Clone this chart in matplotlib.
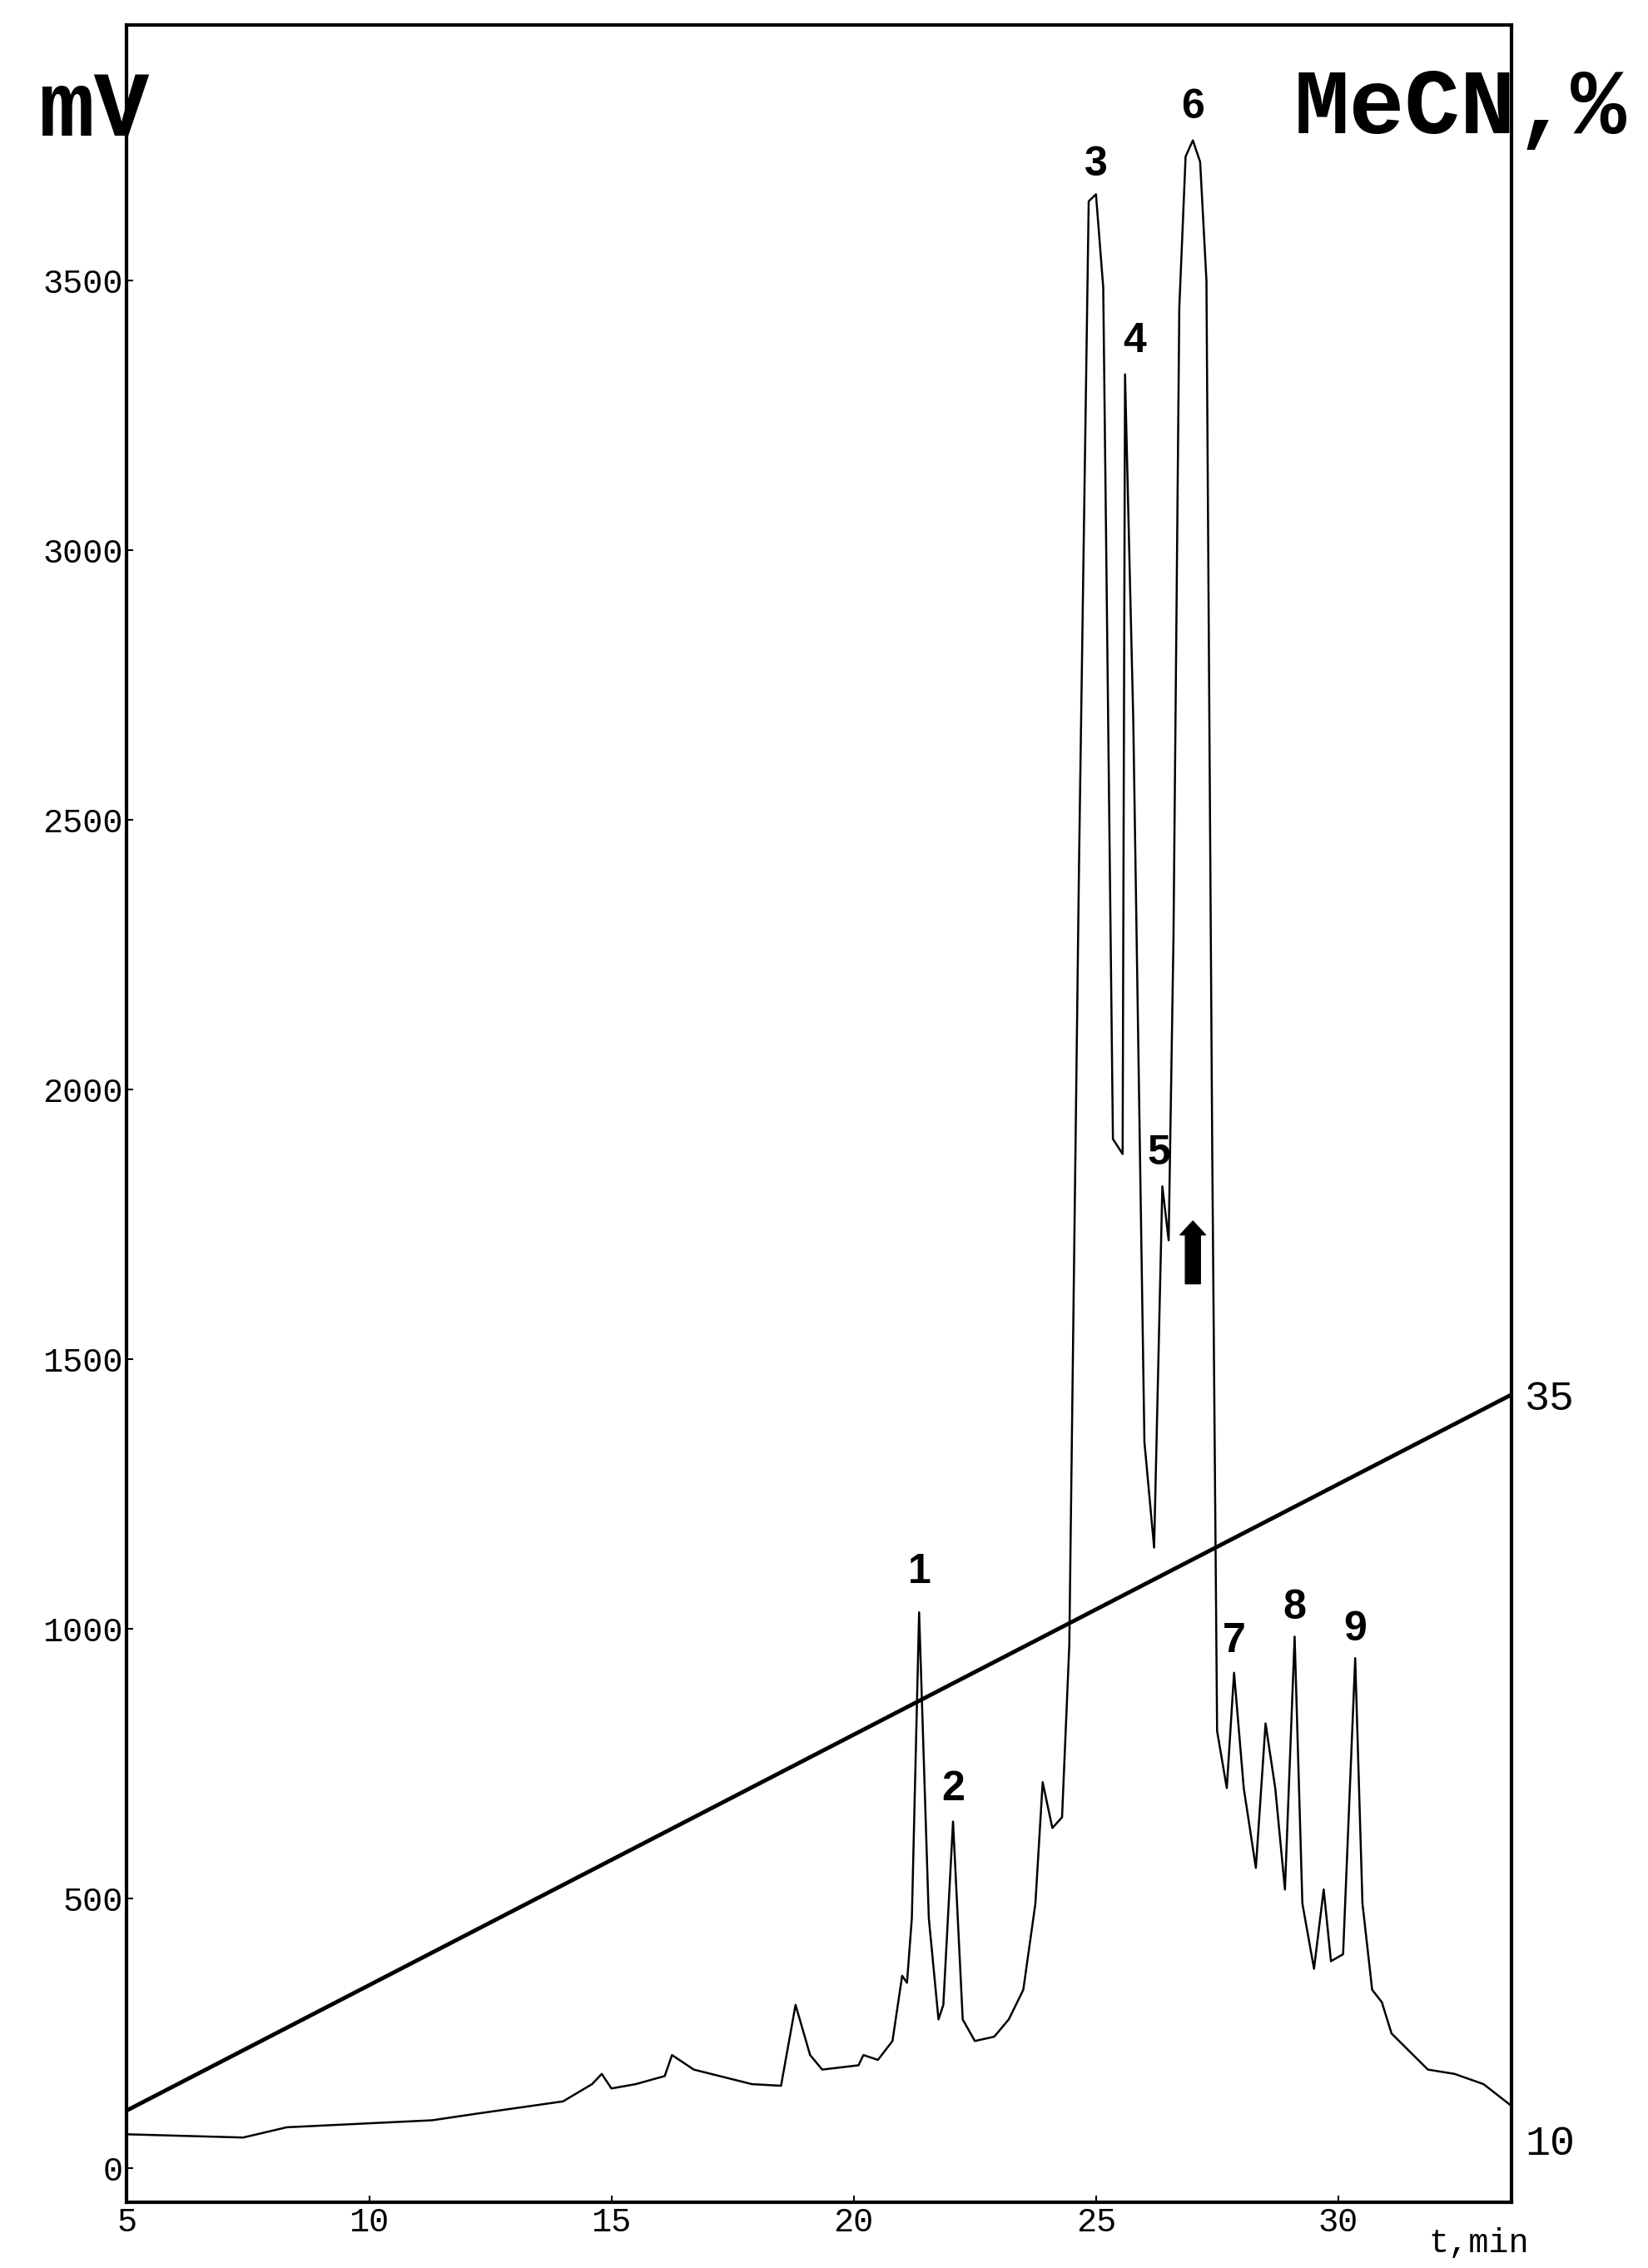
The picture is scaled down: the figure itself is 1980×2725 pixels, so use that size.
import matplotlib
matplotlib.use("Agg")
import matplotlib.pyplot as plt

t = [5, 7.4, 8.3, 11.3, 12.2, 14, 14.6, 14.8, 15.0, 15.5, 16.1, 16.25, 16.7, 17.9, 18.5, 18.8, 19.1, 19.35,
     20.1, 20.2, 20.5, 20.8, 21.0, 21.1, 21.2, 21.35, 21.55, 21.75, 21.85, 22.05, 22.25, 22.5, 22.9, 23.2,
     23.5, 23.75, 23.9, 24.1, 24.3, 24.45, 24.65, 24.85, 25.0, 25.15, 25.35, 25.55, 25.6, 25.77, 26.0, 26.2,
     26.37, 26.5, 26.6, 26.72, 26.85, 27.0, 27.15, 27.28, 27.4, 27.5, 27.7, 27.85, 28.05, 28.3, 28.5, 28.7, 28.9, 29.1,
     29.26, 29.5, 29.7, 29.85, 30.1, 30.35, 30.5, 30.7, 30.9, 31.1, 31.85, 32.4, 33.0, 33.57]
mv = [62, 56, 75, 88, 100, 123, 155, 174, 147, 155, 170, 209, 182, 155, 152, 302, 209, 182,
      190, 209, 200, 235, 356, 343, 463, 1030, 463, 275, 302, 642, 275, 235, 243, 275,
      330, 490, 715, 630, 650, 970, 2416, 3647, 3660, 3487, 1908, 1880, 3326, 2684, 1346, 1150,
      1820, 1720, 2283, 3450, 3730, 3760, 3720, 3500, 1880, 810, 704, 918, 704, 556, 824, 704, 516, 985,
      490, 369, 516, 383, 396, 945, 490, 330, 307, 249, 182, 174, 155, 115]

grad_t = [5, 33.57]
grad_mecn = [11.0, 35.0]

peak_labels = ["1", "2", "3", "4", "5", "6", "7", "8", "9"]
peak_t = [21.35, 22.05, 25.0, 25.8, 26.3, 27.0, 27.85, 29.1, 30.35]
peak_mv = [1105, 701, 3714, 3388, 1881, 3821, 977, 1038, 998]

xticks = [5, 10, 15, 20, 25, 30]
yticks = [0, 500, 1000, 1500, 2000, 2500, 3000, 3500]

fig = plt.figure(figsize=(19.8, 27.25), dpi=100)
ax = fig.add_axes([0.077, 0.029, 0.84, 0.96])
ax.plot(t, mv, color="black", lw=1.8)
ax.set_xlim(5, 33.57)
ax.set_ylim(-64, 3974)
ax.set_xticks(xticks)
ax.set_yticks(yticks)
mono = "Liberation Mono"
ax.set_xticklabels([str(v) for v in xticks], family=mono, fontsize=29)
ax.set_yticklabels([str(v) for v in yticks], family=mono, fontsize=29)
ax.tick_params(direction="in", length=6, width=1.5)
ax.text(32.9, -110, "t,min", family=mono, fontsize=29, ha="center", va="top")
for s in ax.spines.values():
    s.set_linewidth(3)

ax2 = ax.twinx()
ax2.set_ylim(10 + (-64 - 51) / 55.3, 10 + (3974 - 51) / 55.3)
ax2.plot(grad_t, grad_mecn, color="black", lw=3.5)
ax2.set_yticks([10, 35])
ax2.set_yticklabels(["10", "35"], family=mono, fontsize=36)
ax2.tick_params(length=0, pad=12)

for lab, x, y in zip(peak_labels, peak_t, peak_mv):
    ax.text(x, y, lab, fontsize=36, fontweight="bold", ha="center", va="center", family="Liberation Sans")

ax.annotate("", xy=(27.0, 1760), xytext=(27.0, 1635),
            arrowprops=dict(arrowstyle="simple,head_width=2.2,head_length=1.2,tail_width=1.3",
                            color="black"))

fig.text(0.057, 0.951, "mV", family=mono, fontweight="bold", fontsize=80, ha="center", va="center")
fig.text(0.886, 0.952, "MeCN,%", family=mono, fontweight="bold", fontsize=80, ha="center", va="center")

fig.savefig("out.png", dpi=100)
